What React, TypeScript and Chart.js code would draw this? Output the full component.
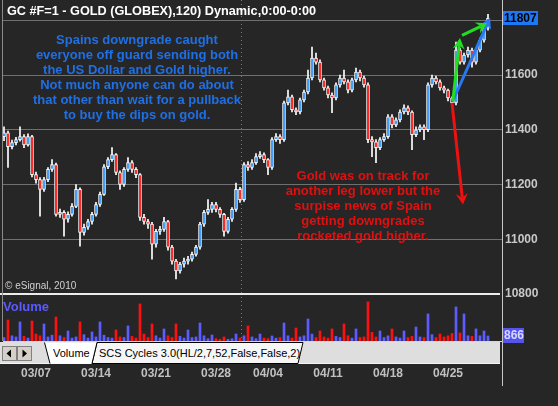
import React, { useEffect, useRef } from 'react';
import { Chart, registerables } from 'chart.js';

Chart.register(...registerables);

const FONT = "'Liberation Sans', Arial, Helvetica, sans-serif";
Chart.defaults.font.family = FONT;

// ---------- DATA ----------
const firstOpen = 11375;
const closes = [
  11389, 11338, 11353, 11364, 11375, 11345, 11375, 11236, 11218, 11182,
  11218, 11255, 11273, 11091, 11098, 11073, 11091, 11120, 11182, 11025,
  11044, 11065, 11091, 11127, 11164, 11265, 11291, 11309, 11244, 11200,
  11255, 11280, 11255, 11236, 11080, 11065, 11055, 10982, 11029, 11036,
  11065, 10971, 10920, 10884, 10909, 10920, 10927, 10945, 10971, 11055,
  11098, 11109, 11127, 11109, 11091, 11029, 11073, 11109, 11182, 11145,
  11273, 11262, 11280, 11302, 11309, 11291, 11262, 11364, 11375, 11364,
  11498, 11520, 11473, 11465, 11509, 11538, 11589, 11662, 11647, 11582,
  11553, 11527, 11516, 11564, 11589, 11575, 11545, 11582, 11611, 11589,
  11564, 11364, 11356, 11335, 11364, 11375, 11447, 11418, 11436, 11465,
  11480, 11465, 11382, 11400, 11411, 11400, 11564, 11589, 11575, 11553,
  11545, 11516, 11498, 11691, 11647, 11673, 11691, 11647, 11691, 11727,
  11771, 11807,
];
const highs = [
  11411, 11395, 11362, 11372, 11411, 11382, 11385, 11380, 11245, 11225,
  11226, 11262, 11291, 11278, 11110, 11105, 11100, 11130, 11200, 11188,
  11055, 11073, 11098, 11135, 11172, 11273, 11298, 11335, 11313, 11250,
  11262, 11298, 11287, 11262, 11240, 11091, 11073, 11062, 11036, 11047,
  11080, 11069, 10978, 10927, 10916, 10931, 10938, 10953, 10978, 11062,
  11106, 11145, 11135, 11135, 11116, 11095, 11080, 11116, 11205, 11190,
  11280, 11284, 11291, 11313, 11320, 11316, 11295, 11371, 11386, 11382,
  11505, 11545, 11527, 11480, 11516, 11545, 11618, 11702, 11680, 11655,
  11589, 11560, 11535, 11571, 11600, 11618, 11582, 11589, 11625, 11618,
  11596, 11571, 11375, 11364, 11371, 11386, 11455, 11455, 11444, 11473,
  11491, 11487, 11469, 11411, 11418, 11418, 11571, 11600, 11596, 11582,
  11560, 11549, 11520, 11720, 11698, 11680, 11702, 11698, 11698, 11735,
  11778, 11822,
];
const lows = [
  11360, 11262, 11330, 11345, 11358, 11335, 11340, 11228, 11205, 11084,
  11175, 11210, 11248, 11084, 11080, 11011, 11062, 11084, 11115, 10975,
  11015, 11036, 11055, 11084, 11120, 11160, 11258, 11284, 11236, 11182,
  11193, 11248, 11244, 11225, 11069, 11055, 11040, 10927, 10971, 11018,
  11029, 10960, 10909, 10855, 10876, 10898, 10909, 10920, 10938, 10964,
  11047, 11091, 11098, 11100, 11080, 11011, 11022, 11065, 11102, 11135,
  11138, 11251, 11255, 11273, 11295, 11280, 11236, 11255, 11357, 11350,
  11357, 11491, 11465, 11455, 11458, 11502, 11531, 11582, 11640, 11575,
  11545, 11516, 11462, 11509, 11556, 11567, 11535, 11538, 11575, 11578,
  11556, 11353, 11302, 11280, 11327, 11357, 11368, 11407, 11411, 11429,
  11458, 11455, 11327, 11375, 11393, 11364, 11393, 11556, 11567, 11545,
  11535, 11505, 11487, 11491, 11640, 11640, 11665, 11629, 11640, 11684,
  11720, 11764,
];
const volumes = [
  600, 3630, 900, 700, 3290, 800, 500, 3460, 1200, 900,
  2940, 700, 1000, 4150, 900, 600, 1730, 500, 700, 3290,
  1100, 500, 1560, 700, 3290, 1000, 600, 500, 1900, 700,
  600, 2600, 800, 500, 6400, 1200, 600, 2940, 900, 500,
  2080, 900, 600, 2940, 800, 500, 1900, 600, 700, 3110,
  900, 400, 1040, 400, 300, 700, 300, 400, 1210, 500,
  900, 2600, 700, 400, 1210, 500, 400, 870, 500, 600,
  3110, 900, 500, 2250, 700, 900, 3800, 1200, 600, 1730,
  700, 500, 2080, 800, 600, 2940, 900, 500, 2080, 600,
  700, 6750, 1500, 700, 1730, 600, 900, 2080, 700, 500,
  1730, 600, 800, 2420, 700, 600, 4670, 1100, 600, 1210,
  700, 900, 1300, 5880, 1400, 4670, 900, 800, 2080, 900,
  1730, 866,
];
const weekTickIndex = [8, 23, 38, 53, 66, 81, 96, 111];
const weekTickLabels = ['03/07', '03/14', '03/21', '03/28', '04/04', '04/11', '04/18', '04/25'];
const priceMin = 10800;
const priceMax = 11874;
const priceStep = 200;
const volumeMax = 7600;
const monthBreakIndex = 59.25;

const titleText = 'GC #F=1 - GOLD (GLOBEX),120) Dynamic,0:00-0:00';
const blueNote = [
  'Spains downgrade caught',
  'everyone off guard sending both',
  'the US Dollar and Gold higher.',
  'Not much anyone can do about',
  'that other than wait for a pullback',
  'to buy the dips on gold.',
];
const redNote = [
  'Gold was on track for',
  'another leg lower but the',
  'surpise news of Spain',
  'getting downgrades',
  'rocketed gold higher.',
];
// arrows in data coordinates: [barIndex, price]
const arrows = [
  { from: [112, 11498], to: [114.75, 11127], color: '#ee1111' },
  { from: [112.2, 11505], to: [121.5, 11810], color: '#2a78f0' },
  { from: [112.2, 11505], to: [114, 11735], color: '#22dd22' },
  { from: [114.5, 11745], to: [120.8, 11789], color: '#22dd22' },
];

const opens = closes.map((c, i) => (i === 0 ? firstOpen : closes[i - 1]));

const BG = '#262626';
const GRID = '#707070';
const CANDLE_UP = '#1e8cff';
const CANDLE_DN = '#ff0000';
const VOL_UP = '#5c5cff';
const VOL_DN = '#ff1010';

function drawArrow(ctx: CanvasRenderingContext2D, x1: number, y1: number, x2: number, y2: number, color: string) {
  const ang = Math.atan2(y2 - y1, x2 - x1);
  const head = 11;
  const hw = 6;
  const cos = Math.cos(ang);
  const sin = Math.sin(ang);
  const bx = x2 - head * cos;
  const by = y2 - head * sin;
  const nx = x2 - head * 0.65 * cos;
  const ny = y2 - head * 0.65 * sin;
  ctx.save();
  ctx.strokeStyle = color;
  ctx.fillStyle = color;
  ctx.lineWidth = 3;
  ctx.lineCap = 'butt';
  ctx.beginPath();
  ctx.moveTo(x1, y1);
  ctx.lineTo(nx, ny);
  ctx.stroke();
  ctx.beginPath();
  ctx.moveTo(x2, y2);
  ctx.lineTo(bx + hw * sin, by - hw * cos);
  ctx.lineTo(nx, ny);
  ctx.lineTo(bx - hw * sin, by + hw * cos);
  ctx.closePath();
  ctx.fill();
  ctx.restore();
}

const noMargins = (s: any) => {
  s.paddingTop = 0;
  s.paddingBottom = 0;
  s.paddingLeft = 0;
  s.paddingRight = 0;
};

const monthLinePlugin = {
  id: 'monthLine',
  beforeDatasetsDraw(chart: any) {
    const { ctx, chartArea, scales } = chart;
    const x = Math.round(scales.x.getPixelForValue(monthBreakIndex)) + 0.5;
    ctx.save();
    ctx.strokeStyle = '#7a7a7a';
    ctx.lineWidth = 1;
    ctx.setLineDash([1, 3]);
    ctx.beginPath();
    ctx.moveTo(x, chartArea.top);
    ctx.lineTo(x, chartArea.bottom);
    ctx.stroke();
    ctx.restore();
  },
};

const priceDecorPlugin = {
  id: 'priceDecor',
  afterDatasetsDraw(chart: any) {
    const { ctx, scales } = chart;
    const { x, y } = scales;
    arrows.forEach((a) => {
      drawArrow(
        ctx,
        x.getPixelForValue(a.from[0]),
        y.getPixelForValue(a.from[1]),
        x.getPixelForValue(a.to[0]),
        y.getPixelForValue(a.to[1]),
        a.color
      );
    });
  },
  afterDraw(chart: any) {
    const { ctx, scales, chartArea } = chart;
    const { y } = scales;
    ctx.save();
    // panel separator (double white line at the bottom of the price panel)
    const yb = Math.round(y.getPixelForValue(priceMin));
    ctx.fillStyle = '#ececec';
    ctx.fillRect(0, yb - 1, chartArea.right - 2, 2);
    // last price box
    const last = closes[closes.length - 1];
    const yl = Math.round(y.getPixelForValue(last));
    ctx.fillStyle = '#1e78f5';
    ctx.fillRect(chartArea.right + 1, yl - 7, 35, 14);
    ctx.fillStyle = '#000000';
    ctx.font = `bold 12px ${FONT}`;
    ctx.textBaseline = 'middle';
    ctx.textAlign = 'left';
    ctx.fillText(String(last), chartArea.right + 2, yl + 0.5);
    ctx.restore();
  },
};

const volumeDecorPlugin = {
  id: 'volumeDecor',
  afterDraw(chart: any) {
    const { ctx, scales, chartArea } = chart;
    const v = volumes[volumes.length - 1];
    const yv = Math.round(scales.y.getPixelForValue(v));
    ctx.save();
    ctx.fillStyle = '#5555ee';
    ctx.fillRect(chartArea.right + 1, yv - 8, 21, 15);
    ctx.fillStyle = '#d8d8ff';
    ctx.font = `bold 12px ${FONT}`;
    ctx.textBaseline = 'middle';
    ctx.textAlign = 'left';
    ctx.fillText(String(v), chartArea.right + 2, yv);
    ctx.restore();
  },
};

function PriceChart() {
  const ref = useRef<HTMLCanvasElement>(null);
  useEffect(() => {
    if (!ref.current) return;
    const chart = new Chart(ref.current, {
      type: 'bar',
      data: {
        datasets: [
          {
            label: 'range',
            data: closes.map((c, i) => ({ x: i, y: [lows[i], highs[i]] })) as any,
            backgroundColor: '#ffffff',
            barThickness: 1,
            grouped: false,
            order: 2,
          } as any,
          {
            label: 'body',
            data: closes.map((c, i) => ({ x: i, y: [opens[i], c] })) as any,
            backgroundColor: closes.map((c, i) => (c >= opens[i] ? CANDLE_UP : CANDLE_DN)),
            borderColor: '#ffffff',
            borderWidth: 1,
            borderSkipped: false,
            barThickness: 3,
            grouped: false,
            order: 1,
          } as any,
        ],
      },
      options: {
        responsive: false,
        animation: false,
        devicePixelRatio: 1,
        layout: { padding: { left: 3, right: 0, top: 0, bottom: 8 }, autoPadding: false } as any,
        plugins: { legend: { display: false }, tooltip: { enabled: false } },
        scales: {
          x: { type: 'linear', display: false, min: -0.25, max: 124.5, offset: false, afterFit: noMargins } as any,
          y: {
            position: 'right',
            min: priceMin,
            max: priceMax,
            afterFit: (s: any) => {
              s.width = 56;
              noMargins(s);
            },
            border: { display: false },
            grid: {
              color: (ctx: any) => (ctx.tick && ctx.tick.value === priceMin ? 'rgba(0,0,0,0)' : GRID),
              drawTicks: false,
              lineWidth: 1,
            },
            ticks: {
              stepSize: priceStep,
              includeBounds: false,
              padding: 3,
              color: '#c8c8c8',
              font: { family: FONT, size: 12, weight: 'bold' },
              callback: (v: any) => (v === 11800 ? '' : String(v)),
            },
          } as any,
        },
      },
      plugins: [monthLinePlugin, priceDecorPlugin],
    });
    return () => chart.destroy();
  }, []);
  return (
    <canvas
      ref={ref}
      width={558}
      height={302}
      style={{ position: 'absolute', left: 0, top: 0, width: 558, height: 302 }}
    />
  );
}

function VolumeChart() {
  const ref = useRef<HTMLCanvasElement>(null);
  useEffect(() => {
    if (!ref.current) return;
    const chart = new Chart(ref.current, {
      type: 'bar',
      data: {
        datasets: [
          {
            label: 'Volume',
            data: volumes.map((v, i) => ({ x: i, y: v })) as any,
            backgroundColor: volumes.map((v, i) => (closes[i] >= opens[i] ? VOL_UP : VOL_DN)),
            barThickness: 2,
            grouped: false,
          } as any,
        ],
      },
      options: {
        responsive: false,
        animation: false,
        devicePixelRatio: 1,
        layout: { padding: { left: 3, right: 0, top: 1, bottom: 0 }, autoPadding: false } as any,
        plugins: { legend: { display: false }, tooltip: { enabled: false } },
        scales: {
          x: {
            type: 'linear',
            position: 'bottom',
            min: -0.25,
            max: 124.5,
            offset: false,
            afterFit: (s: any) => {
              s.height = 47;
              noMargins(s);
            },
            afterBuildTicks: (s: any) => {
              s.ticks = weekTickIndex.map((v) => ({ value: v }));
            },
            grid: { display: false, drawTicks: false },
            border: { display: true, color: '#d6d6d6', width: 1 },
            ticks: {
              autoSkip: false,
              maxRotation: 0,
              minRotation: 0,
              padding: 25,
              color: '#c0c0c0',
              font: { family: FONT, size: 12, weight: 'bold' },
              callback: (_v: any, i: number) => weekTickLabels[i],
            },
          } as any,
          y: {
            position: 'right',
            min: 0,
            max: volumeMax,
            afterFit: (s: any) => {
              s.width = 56;
              noMargins(s);
            },
            grid: { display: false, drawTicks: false },
            border: { display: false },
            ticks: { display: false },
          } as any,
        },
      },
      plugins: [monthLinePlugin, volumeDecorPlugin],
    });
    return () => chart.destroy();
  }, []);
  return (
    <canvas
      ref={ref}
      width={558}
      height={92}
      style={{ position: 'absolute', left: 0, top: 296, width: 558, height: 92 }}
    />
  );
}

function TabBar() {
  return (
    <svg
      width={500}
      height={22}
      style={{ position: 'absolute', left: 0, top: 342 }}
      fontFamily={FONT}
    >
      <rect x={0} y={0} width={500} height={22} fill="#dedede" />
      <line x1={0} y1={21.5} x2={500} y2={21.5} stroke="#f4f4f4" />
      <rect x={2.5} y={4.5} width={14} height={14} fill="#d4d0c8" stroke="#808080" />
      <polygon points="11,7.5 11,15.5 6.5,11.5" fill="#000" />
      <rect x={17.5} y={4.5} width={14} height={14} fill="#d4d0c8" stroke="#808080" />
      <polygon points="22.5,7.5 22.5,15.5 27,11.5" fill="#000" />
      <polygon points="92,21.5 97,0.5 303,0.5 298,21.5" fill="#f6f6f6" stroke="#000" />
      <polygon points="44.5,0.5 50,21.5 92,21.5 97,0.5" fill="#ffffff" />
      <line x1={44.5} y1={0.5} x2={50} y2={21.5} stroke="#000" />
      <line x1={92} y1={21.5} x2={97} y2={0.5} stroke="#000" />
      <text x={53} y={15} fontSize={11} fill="#000">
        Volume
      </text>
      <text x={99} y={15} fontSize={11} fill="#000">
        SCS Cycles 3.0(HL/2,7,52,False,False,2)
      </text>
    </svg>
  );
}

export default function App() {
  return (
    <div
      style={{
        position: 'absolute',
        left: 0,
        top: 0,
        width: 558,
        height: 406,
        background: BG,
        overflow: 'hidden',
        fontFamily: FONT,
      }}
    >
      <PriceChart />
      <VolumeChart />
      <div style={{ position: 'absolute', left: 2, top: 0, width: 1, height: 341, background: '#8a8a8a' }} />
      <div style={{ position: 'absolute', left: 502, top: 0, width: 1, height: 386, background: '#c8c8c8' }} />
      <div
        style={{
          position: 'absolute',
          left: 7,
          top: 4,
          fontSize: 12.7,
          fontWeight: 'bold',
          color: '#ffffff',
          lineHeight: '14px',
          whiteSpace: 'nowrap',
        }}
      >
        {titleText}
      </div>
      <div
        style={{
          position: 'absolute',
          left: 7,
          top: 31.5,
          width: 260,
          textAlign: 'center',
          fontSize: 13,
          fontWeight: 'bold',
          color: '#1f6fe5',
          lineHeight: '15px',
          whiteSpace: 'nowrap',
        }}
      >
        {blueNote.map((l) => (
          <div key={l}>{l}</div>
        ))}
      </div>
      <div
        style={{
          position: 'absolute',
          left: 263,
          top: 167.5,
          width: 200,
          textAlign: 'center',
          fontSize: 13,
          fontWeight: 'bold',
          color: '#e01010',
          lineHeight: '15px',
          whiteSpace: 'nowrap',
        }}
      >
        {redNote.map((l) => (
          <div key={l}>{l}</div>
        ))}
      </div>
      <div
        style={{
          position: 'absolute',
          left: 5,
          top: 280,
          fontSize: 10,
          color: '#d0d0d0',
          lineHeight: '12px',
          whiteSpace: 'nowrap',
        }}
      >
        © eSignal, 2010
      </div>
      <div
        style={{
          position: 'absolute',
          left: 3,
          top: 300,
          fontSize: 13,
          fontWeight: 'bold',
          color: '#5a5aff',
          lineHeight: '14px',
        }}
      >
        Volume
      </div>
      <TabBar />
    </div>
  );
}
